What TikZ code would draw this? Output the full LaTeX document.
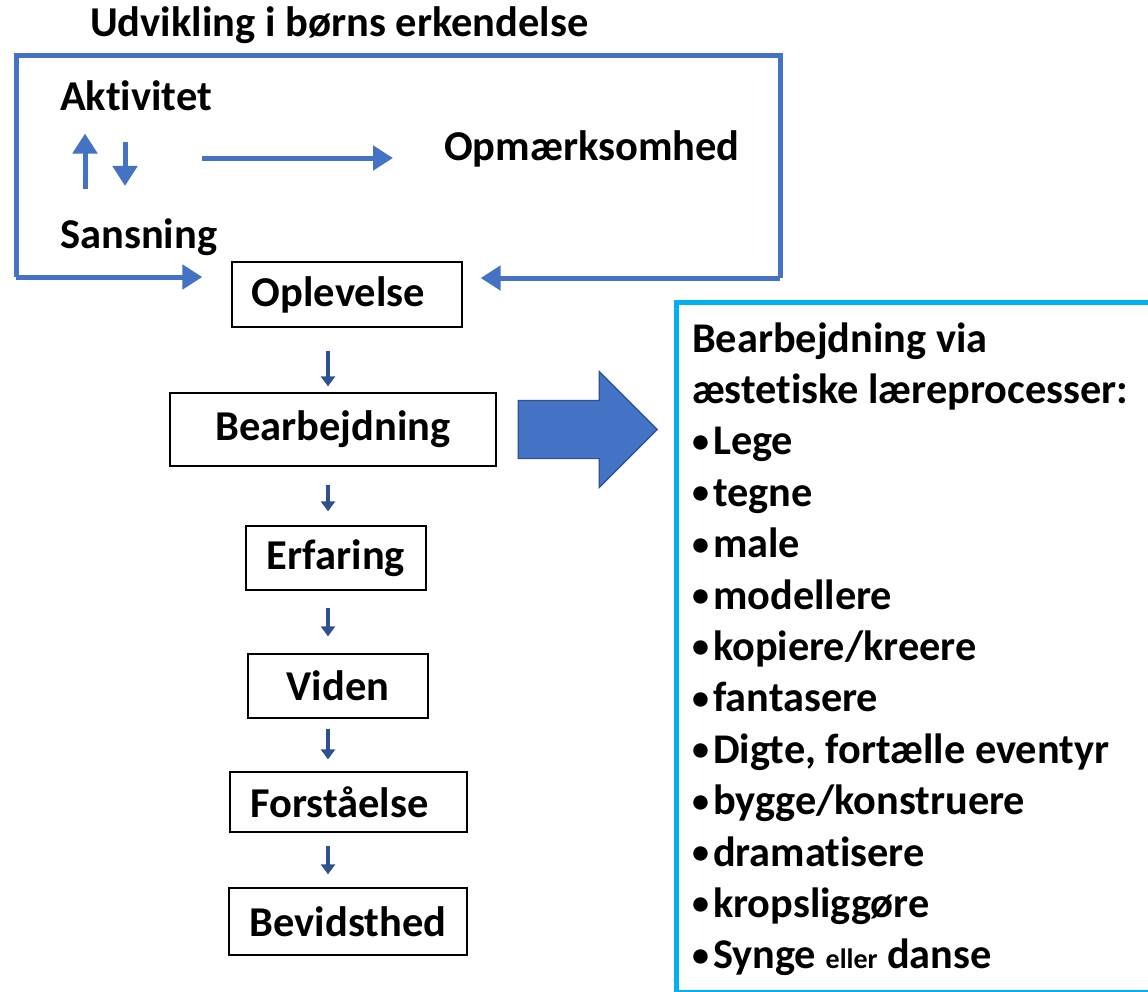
\documentclass[tikz,border=0pt]{standalone}
\usepackage{fontspec}
\setmainfont[Ligatures=NoCommon]{Carlito}
\usetikzlibrary{positioning,arrows.meta,shapes.arrows}
\definecolor{ukBlue}{HTML}{4472C4}
\definecolor{ukBlueD}{HTML}{2F528F}
\definecolor{ukCyan}{HTML}{00B0F0}
\newcommand\ukbullet{{\fontsize{34}{34}\selectfont\raisebox{2.5pt}{•}}\hspace{4pt}}
\tikzset{
  uk-label/.style={font=\fontsize{42.5}{50}\selectfont\bfseries,
    inner sep=0pt, anchor=base west},
  uk-box/.style={draw=black, line width=1.3pt, inner sep=0pt,
    font=\fontsize{42.5}{50}\selectfont\bfseries},
  uk-loop/.style={draw=ukBlue, line width=5pt},
  uk-arrow/.style={uk-loop, -{Triangle[length=20pt,width=24pt]}},
  uk-step/.style={draw=ukBlueD, line width=4pt,
    -{Triangle[length=10pt,width=14pt]}},
  uk-big/.style={single arrow, fill=ukBlue, draw=ukBlueD, line width=1.2pt,
    inner xsep=0pt, inner ysep=28.5pt, single arrow head extend=29pt,
    minimum height=139pt},
  uk-list/.style={font=\fontsize{42.3}{51}\selectfont\bfseries,
    inner sep=0pt, anchor=base west}
}

\begin{document}
\begin{tikzpicture}[x=1pt, y=-1pt]
\useasboundingbox (0,0) rectangle (1148,991);

% --- Erkendelse ---
\node[uk-label] (title) at (90,36) {Udvikling i børns erkendelse};
\node[uk-label] (aktivitet) at (60,110) {Aktivitet};
\node[uk-label] (sansning) at (60,248) {Sansning};
\node[uk-label] (opm) at (444,160) {Opmærksomhed};

% --- Trin ---
\node[uk-box, minimum width=230pt, minimum height=65pt]
  (oplevelse) at (347,294.5) {Oplevelse\hspace*{17pt}};
\node[uk-box, minimum width=326pt, minimum height=73pt]
  (bearb) at (333,429.5) {Bearbejdning};
\node[uk-box, minimum width=180pt, minimum height=64pt]
  (erfaring) at (336,558) {Erfaring};
\node[uk-box, minimum width=180pt, minimum height=64pt]
  (viden) at (338,686) {Viden};
\node[uk-box, minimum width=237pt, minimum height=60pt]
  (forst) at (348.5,802) {Forståelse\hspace*{18pt}};
\node[uk-box, minimum width=238pt, minimum height=67pt]
  (bevid) at (348,921.5) {Bevidsthed};

% --- Bearbejdning via ---
\node[uk-big, right=21pt of bearb] (bigarrow) {};
\node[draw=ukCyan, line width=5pt, inner sep=0pt, anchor=north west,
  minimum width=490pt, minimum height=690pt] (procbox) at (674,300) {};
\foreach \txt [count=\i from 0] in {Bearbejdning via,
    æstetiske læreprocesser:, \ukbullet Lege, \ukbullet tegne,
    \ukbullet male, \ukbullet modellere, \ukbullet kopiere/kreere,
    \ukbullet fantasere, {\ukbullet Digte, fortælle eventyr},
    \ukbullet bygge/konstruere, \ukbullet dramatisere,
    \ukbullet kropsliggøre,
    {\ukbullet Synge {\fontsize{28}{30}\selectfont eller} danse}}
  \node[uk-list] (item\i) at (692,352+\i*51.4) {\txt};

% --- Flux ---
\coordinate (loopL) at (16,277);
\coordinate (loopR) at (780,278);
\coordinate (upx) at (85,0);
\coordinate (dnx) at (125,0);
\coordinate (midarrow) at (202,158);
\coordinate (stepx) at (328,0);
\draw[uk-loop] (loopL) -- (16,55) -- (780,55) -- (loopR);
\draw[uk-arrow, shorten >=29pt] (loopL) -- (oplevelse.west |- loopL);
\draw[uk-arrow, shorten >=18pt] (loopR) -- (oplevelse.east |- loopR);
\draw[uk-arrow, shorten <=29pt, shorten >=23pt]
  (sansning.north -| upx) -- (aktivitet.south -| upx);
\draw[uk-arrow, shorten <=31pt, shorten >=32pt]
  (aktivitet.south -| dnx) -- (sansning.north -| dnx);
\draw[uk-arrow, shorten >=51pt] (midarrow) -- (opm.west |- midarrow);
\foreach \a/\b/\s/\e in {oplevelse/bearb/23/6, bearb/erfaring/18/14,
    erfaring/viden/17/17, viden/forst/10/12, forst/bevid/13/13}
  \draw[uk-step, shorten <=\s pt, shorten >=\e pt]
    (\a.south -| stepx) -- (\b.north -| stepx);
\end{tikzpicture}
\end{document}
